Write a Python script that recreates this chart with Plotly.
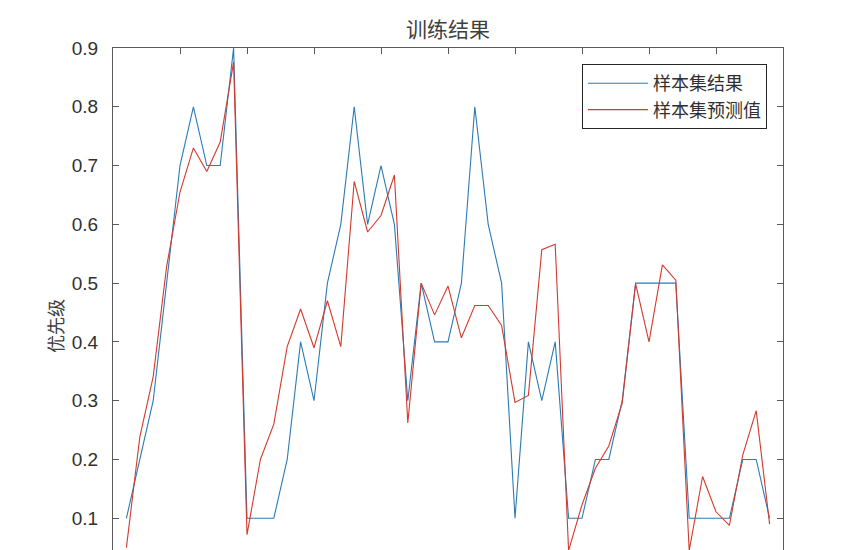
import plotly.graph_objects as go

# Sample index
sample_idx = list(range(1, 50))

# 样本集结果 (actual)
actual = [0.1, 0.2, 0.3, 0.5, 0.7, 0.8, 0.7, 0.7, 0.9, 0.1,
          0.1, 0.1, 0.2, 0.4, 0.3, 0.5, 0.6, 0.8, 0.6, 0.7,
          0.6, 0.3, 0.5, 0.4, 0.4, 0.5, 0.8, 0.6, 0.5, 0.1,
          0.4, 0.3, 0.4, 0.1, 0.1, 0.2, 0.2, 0.3, 0.5, 0.5,
          0.5, 0.5, 0.1, 0.1, 0.1, 0.1, 0.2, 0.2, 0.1]

# 样本集预测值 (predicted)
predicted = [0.05, 0.238, 0.341, 0.528, 0.655, 0.73, 0.69, 0.74, 0.876, 0.072,
             0.2, 0.26, 0.392, 0.456, 0.39, 0.47, 0.392, 0.673, 0.587, 0.615,
             0.684, 0.262, 0.5, 0.446, 0.495, 0.407, 0.462, 0.462, 0.428, 0.297,
             0.309, 0.557, 0.566, 0.045, 0.123, 0.185, 0.223, 0.296, 0.499, 0.4,
             0.531, 0.505, 0.045, 0.171, 0.111, 0.088, 0.208, 0.283, 0.09]

y_ticks = [0.1, 0.2, 0.3, 0.4, 0.5, 0.6, 0.7, 0.8, 0.9]
y_ticktext = ["0.1", "0.2", "0.3", "0.4", "0.5", "0.6", "0.7", "0.8", "0.9"]

title_text = "训练结果"
ylabel_text = "优先级"
names = ["样本集结果", "样本集预测值"]

blue = "#2b7bb5"
red = "#d23a2e"
axis_col = "#5a5a5a"
text_col = "#303030"
cjk = "Noto Sans CJK SC"

fig = go.Figure()
fig.add_trace(go.Scatter(x=sample_idx, y=actual, mode="lines", name=names[0],
                         line=dict(color=blue, width=1.1)))
fig.add_trace(go.Scatter(x=sample_idx, y=predicted, mode="lines", name=names[1],
                         line=dict(color=red, width=1.1)))

fig.update_layout(
    width=865, height=550,
    margin=dict(l=113, r=82, t=48, b=0, pad=0),
    paper_bgcolor="white", plot_bgcolor="white",
    showlegend=True,
    legend=dict(x=0.976, xanchor="right", y=0.968, yanchor="top",
                bgcolor="white", bordercolor="#262626", borderwidth=1,
                font=dict(family=cjk, size=18, color=text_col),
                tracegroupgap=0, itemwidth=60),
    annotations=[
        dict(text=title_text, xref="paper", yref="paper",
             x=0.5, y=1 + 20 / 502, xanchor="center", yanchor="middle",
             showarrow=False, font=dict(family=cjk, size=21, color="#404040")),
        dict(text=ylabel_text, xref="paper", yref="paper",
             x=(55 - 113) / 670, y=1 - (326 - 48) / 502, xanchor="center", yanchor="middle",
             textangle=-90, showarrow=False,
             font=dict(family=cjk, size=18, color="#404040")),
    ],
)

fig.update_xaxes(range=[0, 50], side="top", tick0=0, dtick=5,
                 ticks="inside", ticklen=6, tickcolor=axis_col,
                 showticklabels=False, showgrid=False, zeroline=False,
                 showline=True, linecolor=axis_col, linewidth=1, mirror=False)

fig.update_yaxes(range=[0.046, 0.9], tickvals=y_ticks, ticktext=y_ticktext,
                 ticks="inside", ticklen=6, tickcolor=axis_col, ticklabelstandoff=10,
                 tickfont=dict(family="Liberation Sans", size=19, color=text_col),
                 showgrid=False, zeroline=False,
                 showline=True, linecolor=axis_col, linewidth=1, mirror="ticks")

fig.write_html("out.html", config={"displayModeBar": False},
               post_script="document.body.style.margin='0';")
